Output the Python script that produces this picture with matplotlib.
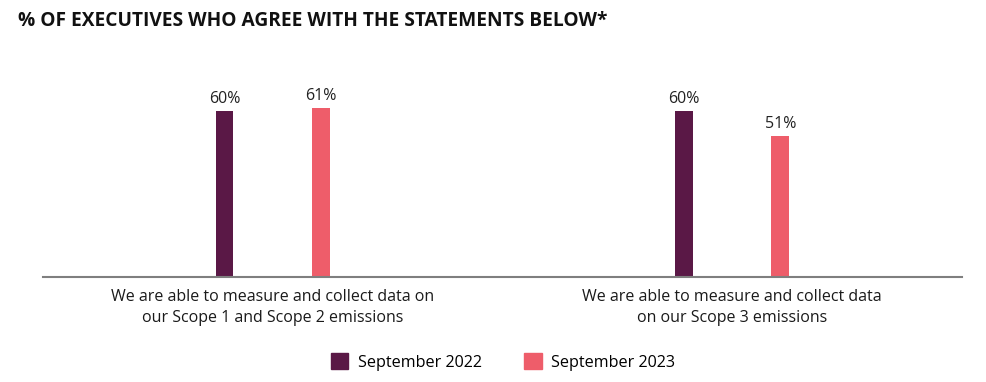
import matplotlib
matplotlib.use('Agg')
import matplotlib.pyplot as plt
from matplotlib.patches import Patch
import numpy as np

plt.rcParams['font.family'] = ['Open Sans', 'DejaVu Sans']

categories = ['We are able to measure and collect data on\nour Scope 1 and Scope 2 emissions',
              'We are able to measure and collect data\non our Scope 3 emissions']
series_names = ['September 2022', 'September 2023']
sep_2022 = [60, 60]
sep_2023 = [61, 51]

purple = '#5a1846'
pink = '#ee5d6a'

fig = plt.figure(figsize=(9.86, 3.82), dpi=100)
ax = fig.add_axes([0.0436, 0.2749, 0.932, 0.594])

x = np.arange(len(categories))
w = 0.039
off = 0.105
b1 = ax.bar(x - off, sep_2022, w, color=purple)
b2 = ax.bar(x + off, sep_2023, w, color=pink)
for bars, vals in ((b1, sep_2022), (b2, sep_2023)):
    for r, v in zip(bars, vals):
        ax.text(r.get_x() + r.get_width() / 2, v + 1.4, f'{v}%', ha='center', va='bottom',
                fontsize=11.5, color='#222222')

ax.set_xlim(-0.5, 1.5)
ax.set_ylim(0, 82)
ax.set_yticks([])
ax.set_xticks(x)
ax.set_xticklabels(categories, fontsize=11.5, color='#1a1a1a', linespacing=1.35)
ax.tick_params(axis='x', length=0, pad=9)
for s in ['top', 'right', 'left']:
    ax.spines[s].set_visible(False)
ax.spines['bottom'].set_color('#7f7f7f')
ax.spines['bottom'].set_linewidth(1.5)

fig.text(0.018, 0.945, '% OF EXECUTIVES WHO AGREE WITH THE STATEMENTS BELOW*',
         fontsize=13.8, fontweight='bold', color='#111111', va='center')

handles = [Patch(color=purple), Patch(color=pink)]
fig.legend(handles, series_names, loc='center', bbox_to_anchor=(0.51, 1 - 362 / 382),
           ncol=2, frameon=False, fontsize=11.6, handlelength=1.1, handleheight=1.1,
           columnspacing=2.6, handletextpad=0.6)

fig.savefig('out.png', dpi=100)
